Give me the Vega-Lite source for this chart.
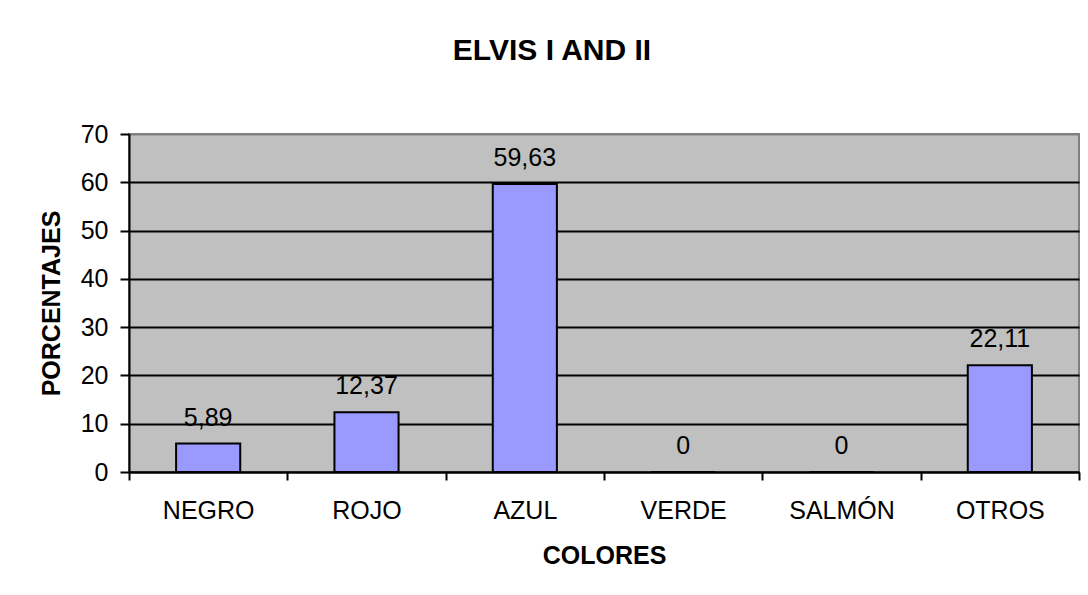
{
  "$schema": "https://vega.github.io/schema/vega-lite/v6.json",
  "width": 950,
  "height": 338,
  "autosize": "none",
  "padding": {"left": 129, "top": 134, "right": 9, "bottom": 123},
  "background": "white",
  "title": {
    "text": "ELVIS I AND II",
    "font": "Liberation Sans",
    "fontSize": 30,
    "fontWeight": "bold",
    "color": "black",
    "anchor": "middle",
    "frame": "group",
    "baseline": "alphabetic",
    "offset": 32,
    "dx": -52
  },
  "data": {
    "values": [
      {"color": "NEGRO", "pct": 5.89},
      {"color": "ROJO", "pct": 12.37},
      {"color": "AZUL", "pct": 59.63},
      {"color": "VERDE", "pct": 0},
      {"color": "SALMÓN", "pct": 0},
      {"color": "OTROS", "pct": 22.11}
    ]
  },
  "encoding": {
    "x": {
      "field": "color",
      "type": "nominal",
      "sort": null,
      "scale": {"paddingInner": 0, "paddingOuter": 0},
      "axis": {
        "title": "COLORES",
        "labelAngle": 0,
        "tickBand": "extent",
        "tickSize": 8,
        "tickWidth": 2,
        "tickColor": "black",
        "domainColor": "black",
        "domainWidth": 2,
        "labelPadding": 18,
        "titlePadding": 20
      }
    },
    "y": {
      "field": "pct",
      "type": "quantitative",
      "scale": {"domain": [0, 70], "nice": false},
      "axis": {
        "title": "PORCENTAJES",
        "values": [0, 10, 20, 30, 40, 50, 60, 70],
        "tickSize": 9,
        "tickWidth": 2,
        "tickColor": "black",
        "domainColor": "black",
        "domainWidth": 2,
        "labelPadding": 12,
        "titlePadding": 16,
        "grid": true,
        "gridColor": {"condition": {"test": "datum.value == 70", "value": "#808080"}, "value": "black"},
        "gridWidth": 2,
        "gridOpacity": 1
      }
    }
  },
  "layer": [
    {
      "mark": {"type": "bar", "width": {"band": 0.405}, "fill": "#9999FF", "stroke": "black", "strokeWidth": 2}
    },
    {
      "mark": {"type": "text", "baseline": "alphabetic", "dy": -18, "font": "Liberation Sans", "fontSize": 25, "color": "black"},
      "encoding": {
        "text": {"field": "pct", "type": "quantitative", "format": "~f"}
      }
    }
  ],
  "config": {
    "locale": {"number": {"decimal": ",", "thousands": ".", "grouping": [3], "currency": ["", " €"]}},
    "view": {"fill": "#C0C0C0", "stroke": "#808080", "strokeWidth": 2},
    "axis": {
      "labelFont": "Liberation Sans",
      "labelFontSize": 25,
      "labelColor": "black",
      "titleFont": "Liberation Sans",
      "titleFontSize": 25,
      "titleFontWeight": "bold",
      "titleColor": "black"
    }
  }
}
